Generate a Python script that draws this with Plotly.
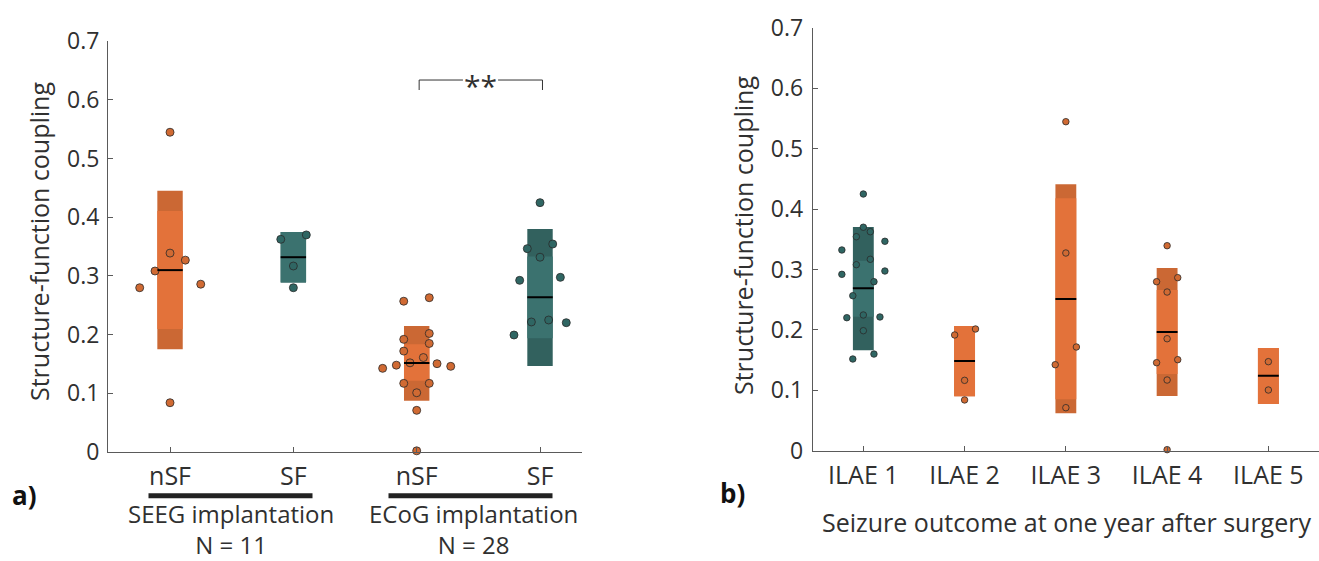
import plotly.graph_objects as go

W, H = 1319, 561
FONT = "Open Sans"
TXT = "#303030"
AX = "#5a5a5a"
OR_IN, OR_OUT, OR_PT = "#E3723A", "#CB6834", "#D06A33"
TE_IN, TE_OUT, TE_PT = "#3B726F", "#32615E", "#2F6663"

# ---------------- panel a data ----------------
a_tick_labels = ["nSF", "SF", "nSF", "SF"]
a_kind = ["nSF", "SF", "nSF", "SF"]
a_values = [
    [0.545, 0.339, 0.327, 0.3085, 0.286, 0.280, 0.084],
    [0.370, 0.3625, 0.317, 0.280],
    [0.263, 0.257, 0.202, 0.192, 0.185, 0.172, 0.161, 0.152, 0.1505, 0.148,
     0.146, 0.1426, 0.117, 0.117, 0.101, 0.071, 0.002],
    [0.425, 0.3545, 0.3466, 0.332, 0.2977, 0.2926, 0.225, 0.2216, 0.2204, 0.1994],
]
a_jitter = [
    [0, 0, 0.124, -0.122, 0.249, -0.246, 0],
    [0.105, -0.102, 0, 0],
    [0.102, -0.105, 0.102, -0.105, 0.102, -0.105, 0.054, -0.054, 0.165, -0.165,
     0.276, -0.276, -0.105, 0.102, 0, 0, 0],
    [0, 0.103, -0.103, 0, 0.165, -0.165, 0.07, -0.07, 0.213, -0.211],
]
a_median = [0.310, 0.332, 0.1517, 0.2637]
a_outer = [(0.175, 0.4454), (0.289, 0.375), (0.0875, 0.2148), (0.1466, 0.380)]
a_inner = [(0.2097, 0.4107), (0.289, 0.375), (0.1216, 0.1835), (0.194, 0.333)]
a_groups = ["SEEG implantation", "ECoG implantation"]
a_group_n = ["N = 11", "N = 28"]

# ---------------- panel b data ----------------
b_tick_labels = ["ILAE 1", "ILAE 2", "ILAE 3", "ILAE 4", "ILAE 5"]
b_kind = ["SF", "nSF", "nSF", "nSF", "nSF"]
b_values = [
    [0.425, 0.370, 0.3626, 0.3543, 0.3467, 0.3323, 0.3169, 0.308, 0.2975, 0.292,
     0.2798, 0.2566, 0.2247, 0.2214, 0.2202, 0.1987, 0.160, 0.1518],
    [0.2015, 0.1916, 0.1165, 0.084],
    [0.5447, 0.3273, 0.1717, 0.1424, 0.0712],
    [0.3394, 0.2865, 0.2798, 0.2627, 0.1854, 0.1507, 0.1457, 0.117, 0.0017],
    [0.1474, 0.1005],
]
b_jitter = [
    [0, 0, 0.069, -0.069, 0.213, -0.212, 0.069, -0.069, 0.213, -0.212,
     0.105, -0.104, 0, 0.164, -0.163, 0, 0.105, -0.104],
    [0.108, -0.098, 0, 0],
    [0, 0, 0.104, -0.105, 0],
    [0, 0.105, -0.104, 0, 0, 0.105, -0.104, 0, 0],
    [0, 0],
]
b_median = [0.269, 0.1485, 0.2512, 0.1965, 0.1242]
b_outer = [(0.1662, 0.3704), (0.090, 0.2064), (0.0619, 0.441), (0.0906, 0.3025), (0.0773, 0.170)]
b_inner = [(0.2219, 0.3146), (0.090, 0.2064), (0.085, 0.418), (0.127, 0.266), (0.0773, 0.170)]

y_ticks = [0, 0.1, 0.2, 0.3, 0.4, 0.5, 0.6, 0.7]
y_title = "Structure-function coupling"

BOX_HALF = 0.103

fig = go.Figure()
shapes = []
annotations = []


def colors(kind):
    if kind == "SF":
        return TE_IN, TE_OUT, TE_PT
    return OR_IN, OR_OUT, OR_PT


def add_panel(xr, yr, kinds, values, jitter, medians, outer, inner, msize):
    for i, kind in enumerate(kinds):
        c_in, c_out, c_pt = colors(kind)
        pos = i + 1
        shapes.append(dict(type="rect", xref=xr, yref=yr, x0=pos - BOX_HALF, x1=pos + BOX_HALF,
                           y0=outer[i][0], y1=outer[i][1], fillcolor=c_out,
                           line=dict(width=0), layer="below"))
        shapes.append(dict(type="rect", xref=xr, yref=yr, x0=pos - BOX_HALF, x1=pos + BOX_HALF,
                           y0=inner[i][0], y1=inner[i][1], fillcolor=c_in,
                           line=dict(width=0), layer="below"))
        shapes.append(dict(type="line", xref=xr, yref=yr, x0=pos - BOX_HALF, x1=pos + BOX_HALF,
                           y0=medians[i], y1=medians[i], line=dict(color="black", width=2),
                           layer="above"))
        fig.add_trace(go.Scatter(
            x=[pos + j for j in jitter[i]], y=values[i], mode="markers",
            xaxis=xr, yaxis=yr, showlegend=False, cliponaxis=False,
            marker=dict(size=msize, color=c_pt, line=dict(color="#2a2a2a", width=0.8)),
        ))


add_panel("x", "y", a_kind, a_values, a_jitter, a_median, a_outer, a_inner, 8)
add_panel("x2", "y2", b_kind, b_values, b_jitter, b_median, b_outer, b_inner, 6.5)

# domains in pixels
aL, aR, aT, aB = 108, 581.7, 41.3, 452
bL, bR, bT, bB = 812.7, 1319, 27.9, 450.7


def px_x(p):
    return p / W


def px_y(p):
    return 1 - p / H


axis_common = dict(showgrid=False, zeroline=False, showline=True, linecolor=AX, linewidth=1,
                   ticks="inside", ticklen=5, tickcolor=AX, tickwidth=1, automargin=False)
xtick_font = dict(family=FONT, size=25, color=TXT)
ytick_font = dict(family=FONT, size=23, color=TXT)

fig.update_layout(
    template="none",
    width=W, height=H, margin=dict(l=0, r=0, t=0, b=0, pad=0),
    paper_bgcolor="white", plot_bgcolor="white",
    xaxis=dict(domain=[px_x(aL), px_x(aR)], range=[0.497, 4.338], tickvals=[1, 2, 3, 4],
               ticktext=a_tick_labels, anchor="y", ticklabelstandoff=2, tickfont=xtick_font,
               **axis_common),
    yaxis=dict(domain=[px_y(aB), px_y(aT)], range=[0, 0.7], tickvals=y_ticks,
               ticktext=[f"{v:g}" for v in y_ticks], anchor="x", ticklabelstandoff=3,
               tickfont=ytick_font, **axis_common),
    xaxis2=dict(domain=[px_x(bL), px_x(bR)], range=[0.5, 5.5], tickvals=[1, 2, 3, 4, 5],
                ticktext=b_tick_labels, anchor="y2", ticklabelstandoff=2, tickfont=xtick_font,
                **axis_common),
    yaxis2=dict(domain=[px_y(bB), px_y(bT)], range=[0, 0.7], tickvals=y_ticks,
                ticktext=[f"{v:g}" for v in y_ticks], anchor="x2", ticklabelstandoff=4,
                tickfont=ytick_font, **axis_common),
)


def text_ann(x_px, y_px, text, size, angle=0, color=TXT):
    annotations.append(dict(x=px_x(x_px), y=px_y(y_px), xref="paper", yref="paper",
                            xanchor="center", yanchor="middle", text=text, showarrow=False,
                            textangle=angle, font=dict(family=FONT, size=size, color=color)))


# y titles
text_ann(39, 242, y_title, 25, angle=-90)
text_ann(743, 236, y_title, 25, angle=-90)

# significance bracket between ECoG nSF (3) and SF (4)
sig_y, sig_drop = 0.634, 0.017
shapes.append(dict(type="path", xref="x", yref="y",
                   path=f"M 3.02 {sig_y - sig_drop} L 3.02 {sig_y} L 3.375 {sig_y}",
                   line=dict(color="#333", width=1)))
shapes.append(dict(type="path", xref="x", yref="y",
                   path=f"M 3.66 {sig_y} L 4.02 {sig_y} L 4.02 {sig_y - sig_drop}",
                   line=dict(color="#333", width=1)))
annotations.append(dict(x=3.515, y=sig_y, xref="x", yref="y", text="**", showarrow=False,
                        xanchor="center", yanchor="middle", yshift=-5,
                        font=dict(family=FONT, size=30, color=TXT)))

# group bars and two-line group labels under panel a
group_centers_px = [230.5, 473]
bar_centers_px = [230.5, 470.5]
for i, g in enumerate(a_groups):
    c = bar_centers_px[i]
    shapes.append(dict(type="line", xref="paper", yref="paper",
                       x0=px_x(c - 82), x1=px_x(c + 82), y0=px_y(495.7), y1=px_y(495.7),
                       line=dict(color="#222", width=5)))
    text_ann(group_centers_px[i], 529, f"{g}<br>{a_group_n[i]}", 24)

text_ann(1066, 522, "Seizure outcome at one year after surgery", 25)
text_ann(24, 495, "<b>a)</b>", 26, color="#111")
text_ann(732, 493, "<b>b)</b>", 26, color="#111")

fig.update_layout(shapes=shapes, annotations=annotations)
fig.write_html("out.html")
